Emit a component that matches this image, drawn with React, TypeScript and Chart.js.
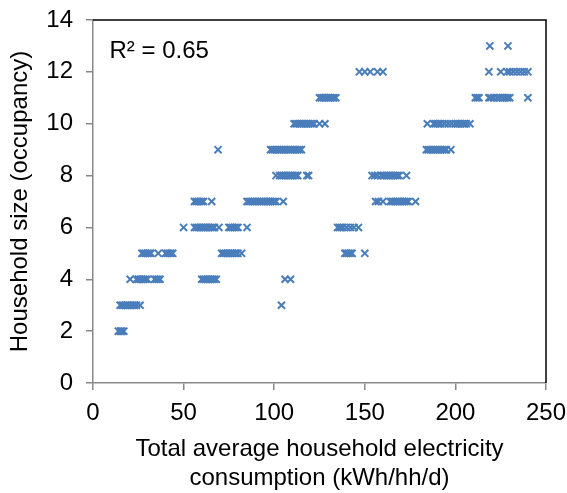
import React, { useEffect, useRef } from "react";
import { Chart, registerables } from "chart.js";

Chart.register(...registerables);

// Household size levels (occupancy) and the consumption values (kWh/hh/d) observed at each level
const occupancy2 = [14, 15, 15.5, 16, 17];
const occupancy3 = [15, 16, 17, 18, 19, 20, 21, 22, 23, 24, 26, 104];
const occupancy4 = [20.5, 24, 25, 26, 27, 28, 29, 30, 34, 35, 36, 37, 60, 61, 62, 63, 64, 65, 66, 67, 68, 106, 109];
const occupancy5 = [27, 28, 29, 30, 31, 32, 36, 40, 41, 42, 43, 44, 71, 72, 73, 74, 75, 76, 77, 78, 79, 80, 82, 139, 140, 141, 142, 143, 150];
const occupancy6 = [50, 56, 57, 58, 59, 60, 61, 62, 63, 64, 65, 66, 67, 69.5, 75, 76, 77, 78, 79, 80, 85, 135, 136, 137, 138, 140, 142, 144, 146.5];
const occupancy7 = [56, 57, 58, 59, 60, 61, 65.5, 85, 86, 87, 88, 89, 90, 91, 92, 93, 94, 95, 96, 97, 98, 99, 100, 101, 105, 156, 157.5, 160, 164, 165, 166, 167, 168, 169, 170, 171, 172, 173, 174, 178];
const occupancy8 = [101, 103, 104, 105, 106, 107, 108, 109, 110, 111, 112, 113, 118, 119, 154, 155.5, 157, 159, 160, 161, 162, 163, 164, 165, 166, 167, 168, 169, 173];
const occupancy9 = [69, 98, 99, 100, 101, 102, 103, 104, 105, 106, 107, 108, 109, 110, 111, 112, 113, 114, 115, 184, 185, 186, 187, 188, 189, 190, 191, 192, 193, 194, 195, 197.5];
const occupancy10 = [111, 112, 113, 114, 115, 116, 117, 118, 119, 120, 121, 122, 125, 128, 184.5, 188, 189, 190, 191, 192, 194, 196, 198, 200, 201, 202, 203, 204, 205, 206, 208];
const occupancy11 = [125, 126, 127, 128, 129, 130, 131, 132, 133, 134, 211, 212, 213, 218.5, 219.5, 221, 223, 224, 225, 226, 227, 228, 229, 230, 240];
const occupancy12 = [147, 150, 153, 157, 160, 218.5, 225, 228.5, 230, 232, 234, 236, 238, 240];
const occupancy13 = [219, 229];

const levelValues: [number, number[]][] = [
  [2, occupancy2],
  [3, occupancy3],
  [4, occupancy4],
  [5, occupancy5],
  [6, occupancy6],
  [7, occupancy7],
  [8, occupancy8],
  [9, occupancy9],
  [10, occupancy10],
  [11, occupancy11],
  [12, occupancy12],
  [13, occupancy13],
];

const xTickLabels = ["0", "50", "100", "150", "200", "250"];
const yTickLabels = ["0", "2", "4", "6", "8", "10", "12", "14"];
const xTitle = ["Total average household electricity", "consumption (kWh/hh/d)"];
const yTitle = "Household size (occupancy)";
const rSquaredLabel = "R² = 0.65";

const FONT = "'Liberation Sans', Arial, sans-serif";

const framePlugin = {
  id: "frameAndLabel",
  afterDatasetsDraw(chart: any) {
    const { ctx, chartArea } = chart;
    ctx.save();
    ctx.strokeStyle = "#000000";
    ctx.lineWidth = 1.5;
    ctx.beginPath();
    ctx.moveTo(chartArea.left, chartArea.top);
    ctx.lineTo(chartArea.right, chartArea.top);
    ctx.lineTo(chartArea.right, chartArea.bottom);
    ctx.stroke();
    ctx.fillStyle = "#000000";
    ctx.font = `24px ${FONT}`;
    ctx.textAlign = "left";
    ctx.textBaseline = "alphabetic";
    ctx.fillText(rSquaredLabel, chartArea.left + 16.5, chartArea.top + 38);
    ctx.restore();
  },
};

export default function App() {
  const canvasRef = useRef<HTMLCanvasElement | null>(null);

  useEffect(() => {
    document.body.style.margin = "0";
    const canvas = canvasRef.current;
    if (!canvas) return;
    const points: { x: number; y: number }[] = [];
    levelValues.forEach(([level, xs]) => {
      xs.forEach((x) => points.push({ x, y: level }));
    });

    const chart = new Chart(canvas, {
      type: "scatter",
      data: {
        datasets: [
          {
            data: points,
            pointStyle: "crossRot",
            pointRadius: 5,
            pointBorderWidth: 2,
            borderColor: "#4A7EBB",
            backgroundColor: "#4A7EBB",
          },
        ],
      },
      options: {
        responsive: false,
        animation: false,
        devicePixelRatio: 1,
        layout: { padding: { top: 20, right: 21, left: 0, bottom: 0 } },
        plugins: {
          legend: { display: false },
          tooltip: { enabled: false },
        },
        scales: {
          x: {
            type: "linear",
            min: 0,
            max: 250,
            afterFit: (scale: any) => {
              scale.height = 110;
              scale.paddingLeft = 0;
              scale.paddingRight = 0;
            },
            ticks: {
              stepSize: 50,
              color: "#000000",
              padding: 9,
              font: { family: FONT, size: 24 },
              callback: (v: any) => {
                const i = Math.round(Number(v) / 50);
                return xTickLabels[i] ?? "";
              },
            },
            grid: {
              drawOnChartArea: false,
              color: "#888888",
              tickLength: 7,
              lineWidth: 1.5,
            },
            border: { color: "#888888", width: 1.5 },
            title: {
              display: true,
              text: xTitle,
              color: "#000000",
              font: { family: FONT, size: 24, lineHeight: 29 / 24 },
              padding: { top: 0, bottom: 0 },
            },
          },
          y: {
            type: "linear",
            min: 0,
            max: 14,
            afterFit: (scale: any) => {
              scale.width = 93;
              scale.paddingTop = 0;
              scale.paddingBottom = 0;
            },
            ticks: {
              stepSize: 2,
              color: "#000000",
              padding: 13,
              font: { family: FONT, size: 24 },
              callback: (v: any) => {
                const i = Math.round(Number(v) / 2);
                return yTickLabels[i] ?? "";
              },
            },
            grid: {
              drawOnChartArea: false,
              color: "#888888",
              tickLength: 7,
              lineWidth: 1.5,
            },
            border: { color: "#888888", width: 1.5 },
            title: {
              display: true,
              text: yTitle,
              color: "#000000",
              font: { family: FONT, size: 24, lineHeight: 1.2 },
              padding: { top: 6, bottom: 0 },
            },
          },
        },
      },
      plugins: [framePlugin],
    });

    return () => chart.destroy();
  }, []);

  return (
    <div style={{ width: 567, height: 493 }}>
      <canvas ref={canvasRef} width={567} height={493} style={{ display: "block" }} />
    </div>
  );
}
